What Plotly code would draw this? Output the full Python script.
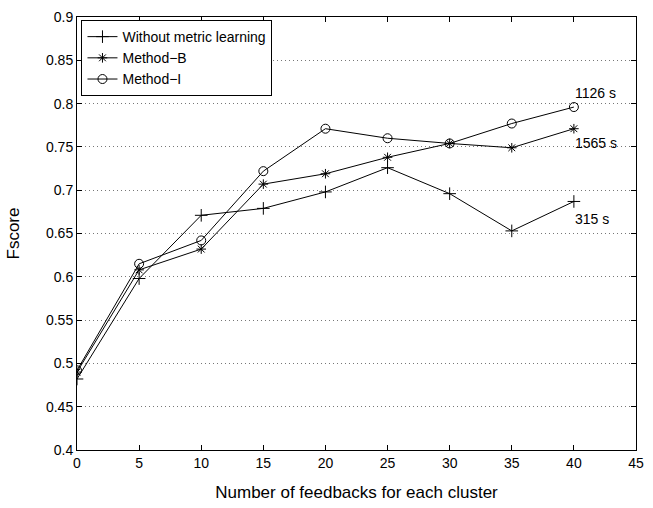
import plotly.graph_objects as go

feedbacks = [0, 5, 10, 15, 20, 25, 30, 35, 40]
without_ml = [0.482, 0.598, 0.671, 0.679, 0.698, 0.726, 0.696, 0.653, 0.687]
method_b = [0.490, 0.608, 0.632, 0.707, 0.719, 0.738, 0.754, 0.749, 0.771]
method_i = [0.492, 0.615, 0.642, 0.722, 0.771, 0.760, 0.754, 0.777, 0.796]
series_names = ["Without metric learning", "Method\u2212B", "Method\u2212I"]
time_labels = ["315 s", "1565 s", "1126 s"]

font_family = "Liberation Sans, Arial, Helvetica, sans-serif"

fig = go.Figure()
symbols = ["cross-thin-open", "asterisk-open", "circle-open"]
sizes = [9, 8, 9]
for name, vals, sym, sz in zip(series_names, [without_ml, method_b, method_i], symbols, sizes):
    fig.add_trace(go.Scatter(
        x=feedbacks, y=vals, name=name, mode="lines+markers",
        line=dict(color="black", width=1),
        marker=dict(symbol=sym, size=sz, color="black", line=dict(color="black", width=1)),
    ))

ann_y = [0.667, 0.754, 0.8125]
for txt, yv in zip(time_labels, ann_y):
    fig.add_annotation(x=39.9, y=yv, text=txt, showarrow=False, xanchor="left", yanchor="middle",
                       font=dict(size=14, color="black", family=font_family))

fig.update_layout(
    width=653, height=508,
    margin=dict(l=77, r=9, t=9, b=55),
    paper_bgcolor="white", plot_bgcolor="white",
    font=dict(family=font_family, size=14, color="black"),
    showlegend=True,
    legend=dict(x=0.008, y=0.993, xanchor="left", yanchor="top",
                bordercolor="black", borderwidth=1, bgcolor="white",
                font=dict(size=14), tracegroupgap=0, itemwidth=30),
    xaxis=dict(range=[0, 45], tickvals=list(range(0, 50, 5)), showgrid=False,
               ticks="inside", ticklen=5, tickcolor="black", showline=True, linecolor="black",
               linewidth=1, mirror="ticks", zeroline=False,
               title=dict(text="Number of feedbacks for each cluster", standoff=16)),
    yaxis=dict(range=[0.4, 0.9], tickvals=[0.4, 0.45, 0.5, 0.55, 0.6, 0.65, 0.7, 0.75, 0.8, 0.85, 0.9],
               ticktext=["0.4", "0.45", "0.5", "0.55", "0.6", "0.65", "0.7", "0.75", "0.8", "0.85", "0.9"],
               showgrid=True, gridcolor="#777777", griddash="1px,3px", gridwidth=1,
               ticks="inside", ticklen=5, tickcolor="black", showline=True, linecolor="black",
               linewidth=1, mirror="ticks", zeroline=False,
               title=dict(text="Fscore", standoff=22)),
)

fig.write_html("out.html")
